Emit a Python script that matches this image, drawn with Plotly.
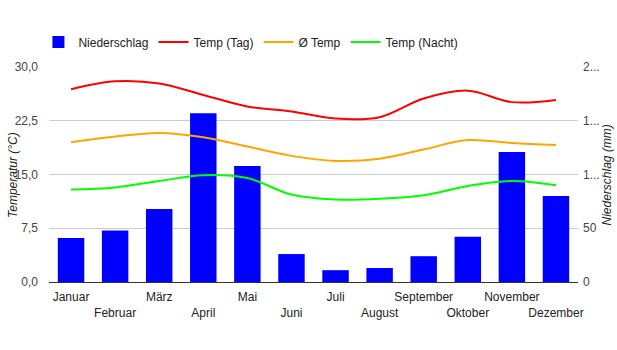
import plotly.graph_objects as go

months = ["Januar", "Februar", "März", "April", "Mai", "Juni", "Juli",
          "August", "September", "Oktober", "November", "Dezember"]
niederschlag = [41, 48, 68, 157, 108, 26, 11, 13, 24, 42, 121, 80]
temp_tag = [26.9, 28.0, 27.7, 26.1, 24.5, 23.8, 22.8, 23.0, 25.6, 26.7, 25.1, 25.4]
temp_avg = [19.5, 20.3, 20.8, 20.2, 18.9, 17.6, 16.9, 17.2, 18.5, 19.8, 19.4, 19.1]
temp_nacht = [12.9, 13.2, 14.1, 14.9, 14.5, 12.2, 11.5, 11.6, 12.1, 13.4, 14.1, 13.5]

left_vals = [0, 7.5, 15, 22.5, 30]
left_text = ["0,0", "7,5", "15,0", "22,5", "30,0"]
right_vals = [0, 50, 100, 150, 200]
right_text = ["0", "50", "1...", "1...", "2..."]

x_text = [m if i % 2 == 0 else "<br>" + m for i, m in enumerate(months)]

FONT = "Arial, Liberation Sans, sans-serif"

fig = go.Figure()
fig.add_trace(go.Bar(x=months, y=niederschlag, name="Niederschlag",
                     marker=dict(color="#0000ff", line=dict(width=0)),
                     width=0.6, yaxis="y"))
fig.add_trace(go.Scatter(x=months, y=temp_tag, name="Temp (Tag)", mode="lines",
                         line=dict(color="#ff0000", width=2, shape="spline", smoothing=1),
                         yaxis="y2"))
fig.add_trace(go.Scatter(x=months, y=temp_avg, name="Ø Temp", mode="lines",
                         line=dict(color="#ffa500", width=2, shape="spline", smoothing=1),
                         yaxis="y2"))
fig.add_trace(go.Scatter(x=months, y=temp_nacht, name="Temp (Nacht)", mode="lines",
                         line=dict(color="#00ff00", width=2, shape="spline", smoothing=1),
                         yaxis="y2"))

fig.update_layout(
    width=617, height=350,
    margin=dict(l=49, r=39, t=67, b=68, autoexpand=False),
    paper_bgcolor="white", plot_bgcolor="white",
    font=dict(family=FONT, size=12, color="#444"),
    showlegend=True,
    legend=dict(orientation="h", x=-0.02, xanchor="left", y=1.116, yanchor="middle",
                font=dict(size=12, color="#222"), bgcolor="rgba(0,0,0,0)",
                itemwidth=30, traceorder="normal"),
    xaxis=dict(type="category", tickmode="array", tickvals=months, ticktext=x_text,
               tickangle=0, automargin=False,
               showgrid=False, showline=True, linecolor="#333", linewidth=1,
               ticks="", ticklabelstandoff=4, tickfont=dict(size=12, color="#222"),
               range=[-0.5, 11.5]),
    yaxis=dict(side="right", range=[0, 200], tickmode="array", tickvals=right_vals,
               ticktext=right_text, showgrid=True, gridcolor="#cccccc", gridwidth=1,
               zeroline=False, showline=False, ticks="", ticklabelstandoff=4,
               automargin=False, tickfont=dict(size=12, color="#444")),
    yaxis2=dict(side="left", overlaying="y", range=[0, 30], tickmode="array",
                tickvals=left_vals, ticktext=left_text, showgrid=False,
                zeroline=False, showline=False, ticks="", ticklabelstandoff=10,
                automargin=False, tickfont=dict(size=12, color="#444")),
    annotations=[
        dict(text="<i>Temperatur (°C)</i>", xref="paper", yref="paper",
             x=-0.069, y=0.5, xanchor="center", yanchor="middle", textangle=-90,
             showarrow=False, font=dict(size=12, color="#222")),
        dict(text="<i>Niederschlag (mm)</i>", xref="paper", yref="paper",
             x=1.0548, y=0.5, xanchor="center", yanchor="middle", textangle=-90,
             showarrow=False, font=dict(size=12, color="#222")),
    ],
)

fig.write_html("out.html")
